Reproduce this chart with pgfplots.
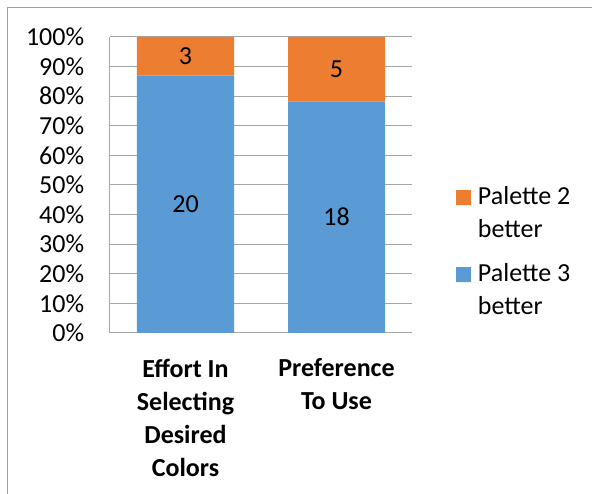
\documentclass[border=0pt]{standalone}
\usepackage{pgfplots}
\pgfplotsset{compat=1.18}
\usepackage{pgfplotstable}
\usepackage{fontspec}
\setmainfont{Carlito}

\definecolor{pblue}{HTML}{5B9BD5}
\definecolor{porange}{HTML}{ED7D31}
\definecolor{gridgray}{HTML}{A6A6A6}
\definecolor{framegray}{HTML}{A0A0A0}

% counts per category (23 responses each)
\pgfplotstableread{
x p3 p2 tot
0 20 3 23
1 18 5 23
}\counts

% segment labels: count, and the count stacked below it
\pgfplotstableread{
x n lo tot
0 20 0 23
0 3 20 23
1 18 0 23
1 5 18 23
}\labels

\begin{document}
\fontsize{26pt}{32pt}\selectfont
\begin{tikzpicture}[x=1pt,y=1pt]
\useasboundingbox (0,0) rectangle (592,494);
% outer chart frame
\draw[framegray, line width=1.2pt] (7.5,-5) -- (7.5,486.5) -- (600,486.5);

\begin{axis}[
  at={(110pt,161pt)}, anchor=south west,
  scale only axis, width=302pt, height=296pt,
  ybar stacked, bar width=97pt,
  xmin=-0.5, xmax=1.5, ymin=0, ymax=100,
  xtick={0,1}, xticklabels={},
  ytick={0,10,...,100},
  yticklabel={\pgfmathprintnumber{\tick}\%},
  /pgf/number format/assume math mode=true,
  ymajorgrids, grid style={gridgray, line width=1pt},
  axis line style={gridgray, line width=1pt},
  axis x line*=bottom, axis y line*=left,
  major tick length=0pt,
  tick label style={font=\fontsize{26pt}{32pt}\selectfont},
  yticklabel style={xshift=-17pt},
  legend style={at={(1.135,0.508)}, anchor=north west, draw=none, fill=none,
    font=\fontsize{26pt}{33pt}\selectfont,
    cells={align=left, anchor=west}, row sep=18pt},
  reverse legend,
  legend image code/.code={\fill[#1] (0pt,9pt) rectangle (15pt,24pt);
    \path (0pt,9pt) -- (20pt,9pt);},
]
\addplot[fill=pblue, draw=none] table[x=x, y expr=\thisrow{p3}/\thisrow{tot}*100] {\counts};
\addplot[fill=porange, draw=none] table[x=x, y expr=\thisrow{p2}/\thisrow{tot}*100] {\counts};
\legend{Palette 3\\better, Palette 2\\better}
\end{axis}

% count labels at the middle of each segment
\begin{axis}[
  at={(110pt,161pt)}, anchor=south west,
  scale only axis, width=302pt, height=296pt,
  xmin=-0.5, xmax=1.5, ymin=0, ymax=100,
  axis lines=none,
]
\addplot[draw=none, mark=none, only marks, nodes near coords, point meta=explicit symbolic,
  nodes near coords align={center},
  every node near coord/.append style={anchor=center, font=\fontsize{26pt}{32pt}\selectfont, text=black}]
  table[x=x, y expr=(\thisrow{lo}+\thisrow{n}/2)/\thisrow{tot}*100, meta=n] {\labels};
\end{axis}

% category names
\node[font=\fontsize{26pt}{33pt}\selectfont\bfseries, align=center, anchor=north]
  at (185.5,494-350) {Effort In\\Selecting\\Desired\\Colors};
\node[font=\fontsize{26pt}{33pt}\selectfont\bfseries, align=center, anchor=north]
  at (336.5,494-350) {Preference\\To Use};
\end{tikzpicture}
\end{document}
